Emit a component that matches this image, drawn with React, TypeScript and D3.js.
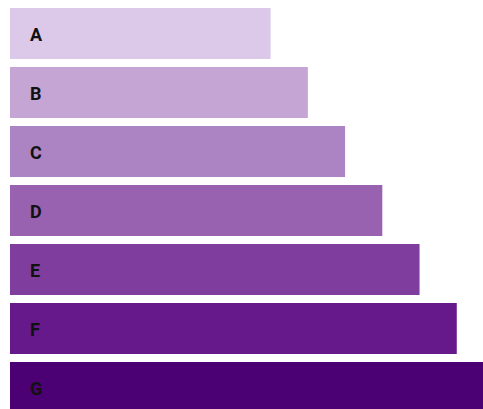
import React, {useRef, useEffect} from 'react';
import * as d3 from 'd3';

const categories = ['A', 'B', 'C', 'D', 'E', 'F', 'G'];
const values = [70, 80, 90, 100, 110, 120, 130];
const colors = ['#dcc8e9', '#c4a5d4', '#ad84c3', '#9862b0', '#7f3e9e', '#66198b', '#4b0074'];

const width = 483;
const height = 409;

const App: React.FC = () => {
    const svgRef = useRef<SVGSVGElement>(null);

    useEffect(() => {
        if (!svgRef.current) return;
        const svg = d3.select(svgRef.current);
        svg.selectAll('*').remove();

        const x = d3.scaleLinear().domain([0, 130]).range([10, 494]);
        // 59px step, 51px bars
        const y = d3.scaleBand<string>()
            .domain(categories)
            .range([8, 413])
            .paddingInner(8 / 59)
            .paddingOuter(0);

        const rows = svg.selectAll('.row')
            .data(categories)
            .enter()
            .append('g')
            .attr('class', 'row');

        rows.append('rect')
            .attr('x', x(0))
            .attr('y', d => y(d) as number)
            .attr('height', y.bandwidth())
            .attr('width', (_, i) => x(values[i]) - x(0))
            .style('fill', (_, i) => colors[i]);

        rows.append('text')
            .attr('x', x(0) + 20)
            .attr('y', d => (y(d) as number) + y.bandwidth() / 2 + 1)
            .attr('dominant-baseline', 'central')
            .style('font-family', 'Roboto, sans-serif')
            .style('font-weight', 'bold')
            .style('font-size', '18px')
            .style('fill', '#111')
            .text(d => d);
    }, []);

    return (
        <svg
            ref={svgRef}
            width={width}
            height={height}
            style={{position: 'absolute', left: 0, top: 0}}
        />
    );
};

export default App;
